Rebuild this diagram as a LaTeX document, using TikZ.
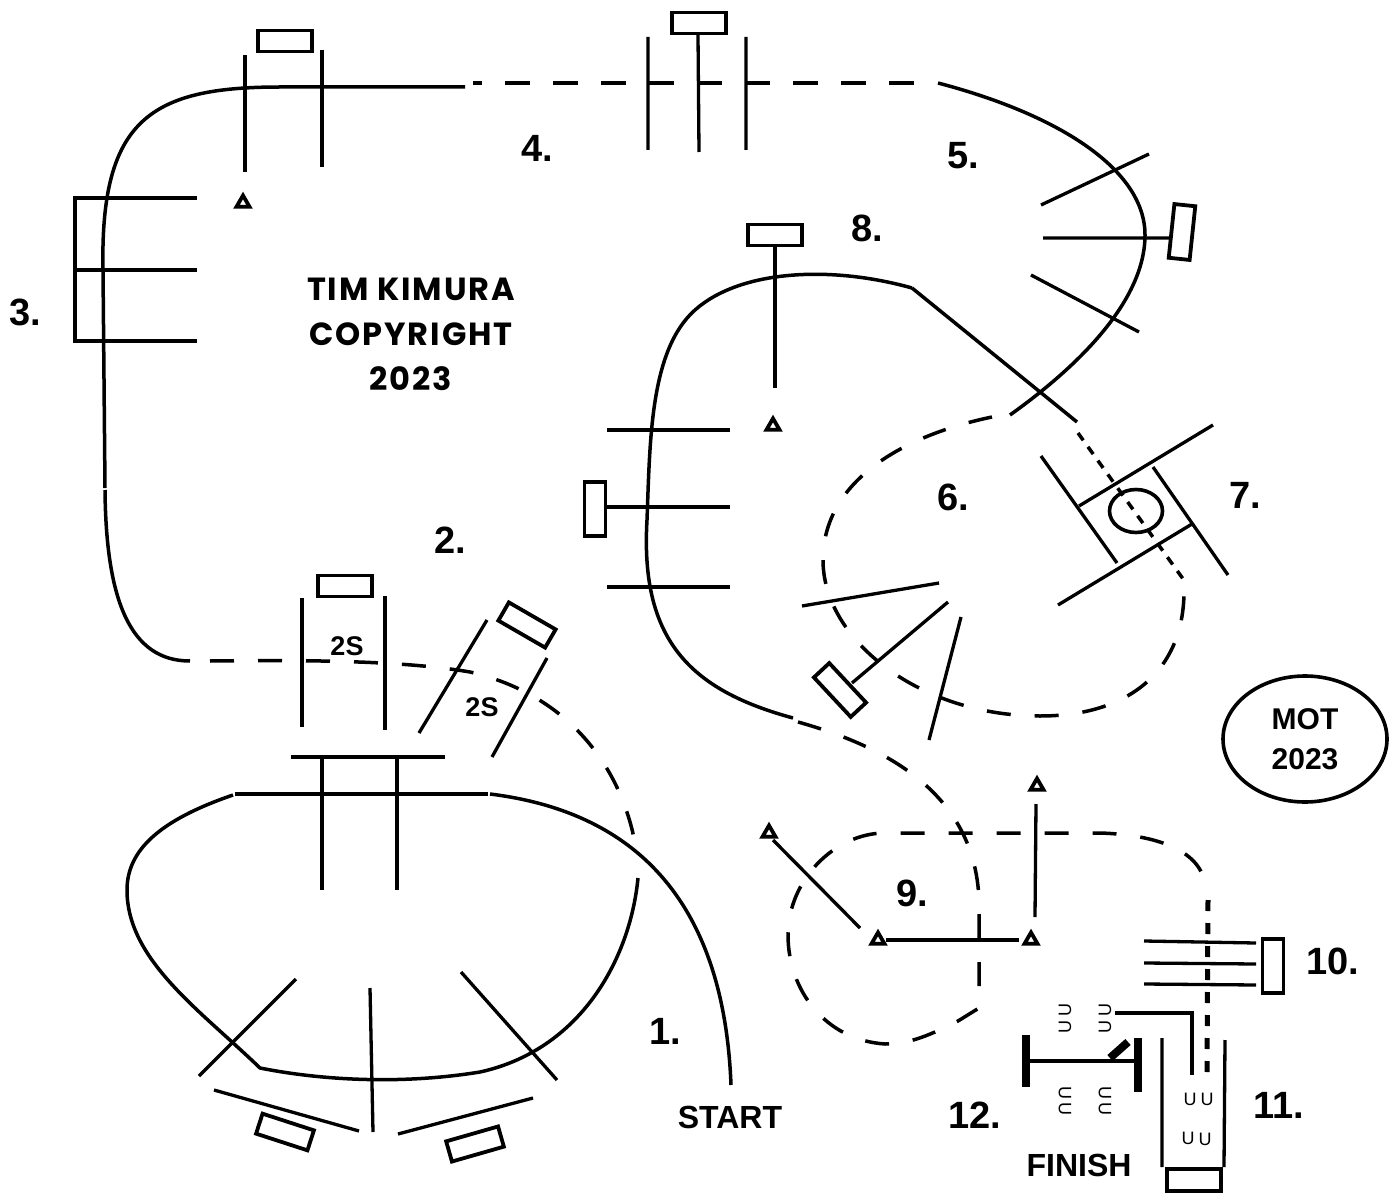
\documentclass[tikz,border=0pt]{standalone}
\usepackage{fontspec}
\setmainfont{Liberation Sans}
\newfontfamily\signfont[LetterSpace=6]{Poppins}
\usetikzlibrary{shapes.geometric}
\tikzset{
  course/.style={line width=3.5pt,draw=black},
  coursedash/.style={course,dash pattern=on 24pt off 24pt},
  coursedot/.style={course,dash pattern=on 9pt off 8pt},
  gateline/.style={line width=3.3pt,draw=black},
  gatebox/.style={draw=black,line width=3.8pt,fill=white,minimum width=54pt,
    minimum height=21pt,inner sep=0pt},
  cone/.style={draw=black,line width=3.8pt,fill=white,regular polygon,
    regular polygon sides=3,minimum size=15pt,inner sep=0pt},
  steplabel/.style={font=\fontsize{38}{42}\selectfont\bfseries,inner sep=0pt},
  signlabel/.style={font=\fontsize{32}{36}\selectfont\bfseries,inner sep=0pt},
  smalllabel/.style={font=\fontsize{27}{30}\selectfont\bfseries,inner sep=0pt},
  marklabel/.style={font=\fontsize{18}{18}\selectfont,inner sep=0pt},
}

\begin{document}
\begin{tikzpicture}[x=1pt,y=-1pt]
  \useasboundingbox (0,0) rectangle (1395,1193);
  % course
  \draw[course] (731,1085) .. controls (725,930) and (660,815) .. (490,794);
  \draw[course] (235,794) -- (488,794);
  \draw[course] (233,795) .. controls (160,820) and (127,850) .. (127,890)
    .. controls (127,960) and (200,1010) .. (260,1068)
    .. controls (320,1080) and (400,1085) .. (480,1072)
    .. controls (580,1050) and (630,960) .. (638,878);
  \draw[coursedash] (210,661) .. controls (300,660) and (400,660) .. (470,672)
    .. controls (570,695) and (625,770) .. (637,855);
  \draw[course] (190,661) .. controls (130,661) and (106,600) .. (105,490);
  \draw[course] (105,488) -- (103,270) .. controls (100,120) and (150,87) .. (280,87) -- (465,87);
  \draw[course,dash pattern=on 25pt off 23pt,dash phase=16pt] (473,83) -- (915,83);
  \draw[course] (938,83) .. controls (1060,115) and (1145,170) .. (1145,235)
    .. controls (1145,300) and (1080,365) .. (1010,415);
  \draw[coursedash] (992,417) .. controls (905,435) and (823,480) .. (823,560)
    .. controls (823,640) and (920,716) .. (1040,716)
    .. controls (1130,716) and (1183,670) .. (1184,593);
  \draw[course] (912,288) -- (1077,422);
  \draw[coursedot] (1078,433) -- (1186,583);
  \draw[course] (912,288) .. controls (830,265) and (740,270) .. (695,310)
    .. controls (650,350) and (650,440) .. (647,520)
    .. controls (640,640) and (690,690) .. (793,718);
  \draw[coursedash] (798,722) .. controls (880,745) and (975,790) .. (979,900) -- (979,1008) -- (958,1021)
    .. controls (930,1035) and (910,1044) .. (885,1044)
    .. controls (825,1040) and (788,990) .. (788,935)
    .. controls (788,880) and (835,833) .. (885,833) -- (1100,833)
    .. controls (1165,835) and (1205,855) .. (1205,889);
  \draw[course,line width=5pt,dash pattern=on 11pt off 12pt] (1208,900) -- (1207,1075);
  \draw[course] (1115,1013) -- (1192,1013) -- (1192,1075);
  % start gates
  \draw[gateline] (296,979) -- (199,1076) (370,988) -- (373,1132) (461,972) -- (557,1080);
  \draw[gateline] (214,1090) -- (359,1131) (398,1134) -- (533,1098);
  \node[gatebox,rotate=-18] (boxa) at (285,1132) {};
  \node[gatebox,rotate=16] (boxb) at (475,1144) {};
  \draw[gateline] (291,757) -- (445,757) (322,757) -- (322,890) (397,757) -- (397,890);
  % gate 2
  \draw[gateline] (302,598) -- (302,727) (385,596) -- (385,730);
  \draw[gateline] (487,620) -- (419,733) (547,658) -- (492,757);
  \node[gatebox] (boxc) at (345,586) {};
  \node[gatebox,rotate=-30] (boxd) at (527,625) {};
  % gate 3
  \draw[gateline] (197,198) -- (75,198) -- (75,341) -- (197,341) (75,270) -- (197,270);
  \draw[gateline] (245,55) -- (245,172) (322,50) -- (322,167);
  \node[gatebox] (boxe) at (285,41) {};
  \node[cone] (conea) at (243,203) {};
  % gate 4
  \draw[gateline] (648,37) -- (648,150) (698,35) -- (699,152) (746,37) -- (746,150);
  \node[gatebox] (boxf) at (699,23) {};
  % gate 5
  \draw[gateline] (1041,205) -- (1149,154) (1043,238) -- (1170,238) (1031,275) -- (1139,332);
  \node[gatebox,rotate=84] (boxg) at (1182,232) {};
  % gate 6
  \draw[gateline] (607,430) -- (730,430) (607,507) -- (730,507) (607,587) -- (730,587);
  \node[gatebox,rotate=90] (boxh) at (595,509) {};
  \draw[gateline] (802,606) -- (939,583) (948,602) -- (852,683) (961,617) -- (929,740);
  \node[gatebox,rotate=-47] (boxi) at (840,690) {};
  % gate 7
  \draw[gateline] (1041,456) -- (1117,563) (1153,467) -- (1228,575);
  \draw[gateline] (1079,506) -- (1213,425) (1058,605) -- (1192,524);
  \node[draw=black,line width=3.6pt,ellipse,minimum width=53pt,minimum height=43pt,inner sep=0pt] (hoop) at (1136,511) {};
  % gate 8
  \node[gatebox] (boxj) at (775,235) {};
  \draw[gateline] (boxj.south) -- (775,388);
  \node[cone] (coneb) at (773,426) {};
  % gate 9
  \node[cone] (conec) at (769,833) {};
  \node[cone] (coned) at (878,940) {};
  \node[cone] (conee) at (1031,940) {};
  \node[cone] (conef) at (1037,786) {};
  \draw[gateline] (773,840) -- (860,928);
  \draw[gateline,shorten <=1pt,shorten >=5pt] (coned) -- (conee);
  \draw[gateline] (1036,804) -- (1035,917);
  % gate 10
  \draw[gateline] (1144,941) -- (1256,943) (1144,963) -- (1256,964) (1144,984) -- (1256,985);
  \node[gatebox,rotate=90] (boxk) at (1273,966) {};
  % gate 11
  \draw[gateline] (1162,1038) -- (1162,1167) (1225,1040) -- (1224,1167);
  \node[gatebox,minimum height=22pt] (boxl) at (1194,1180) {};
  % gate 12
  \draw[line width=8pt] (1026,1035) -- (1026,1087) (1138,1038) -- (1138,1092);
  \draw[gateline] (1030,1061) -- (1135,1061);
  \draw[line width=8pt] (1110,1058) -- (1128,1042);
  \foreach \x/\y [count=\i] in {1065/1010,1065/1027,1105/1010,1105/1027}
    \node[marklabel,rotate=90] (marka\i) at (\x,\y) {U};
  \foreach \x/\y [count=\i] in {1065/1093,1065/1109,1105/1093,1105/1109}
    \node[marklabel,rotate=-90] (markb\i) at (\x,\y) {U};
  \foreach \x/\y [count=\i] in {1190/1099,1207/1099,1188/1138,1205/1139}
    \node[marklabel] (markc\i) at (\x,\y) {U};
  % labels
  \node[steplabel] (one) at (665,1031) {1.};
  \node[steplabel] (two) at (450,540) {2.};
  \node[steplabel] (three) at (25,312) {3.};
  \node[steplabel] (four) at (537,148) {4.};
  \node[steplabel] (five) at (963,156) {5.};
  \node[steplabel] (six) at (953,497) {6.};
  \node[steplabel] (seven) at (1245,495) {7.};
  \node[steplabel] (eight) at (867,228) {8.};
  \node[steplabel] (nine) at (912,893) {9.};
  \node[steplabel] (ten) at (1333,961) {10.};
  \node[steplabel] (eleven) at (1279,1105) {11.};
  \node[steplabel] (twelve) at (975,1115) {12.};
  \node[signlabel] (start) at (730,1117) {START};
  \node[signlabel] (finish) at (1079,1165) {FINISH};
  \node[smalllabel] (twoa) at (347,646) {2S};
  \node[smalllabel] (twob) at (482,707) {2S};
  \node[draw=black,line width=3.6pt,ellipse,minimum width=164pt,minimum height=126pt,
    align=center,font=\fontsize{30}{40}\selectfont\bfseries,inner sep=0pt] (mot) at (1305,739) {MOT\\2023};
  \node[align=center,font=\signfont\fontsize{32}{45}\selectfont\bfseries,inner sep=0pt] (sign) at (411,334)
    {TIM KIMURA\\COPYRIGHT\\2023};
\end{tikzpicture}
\end{document}
